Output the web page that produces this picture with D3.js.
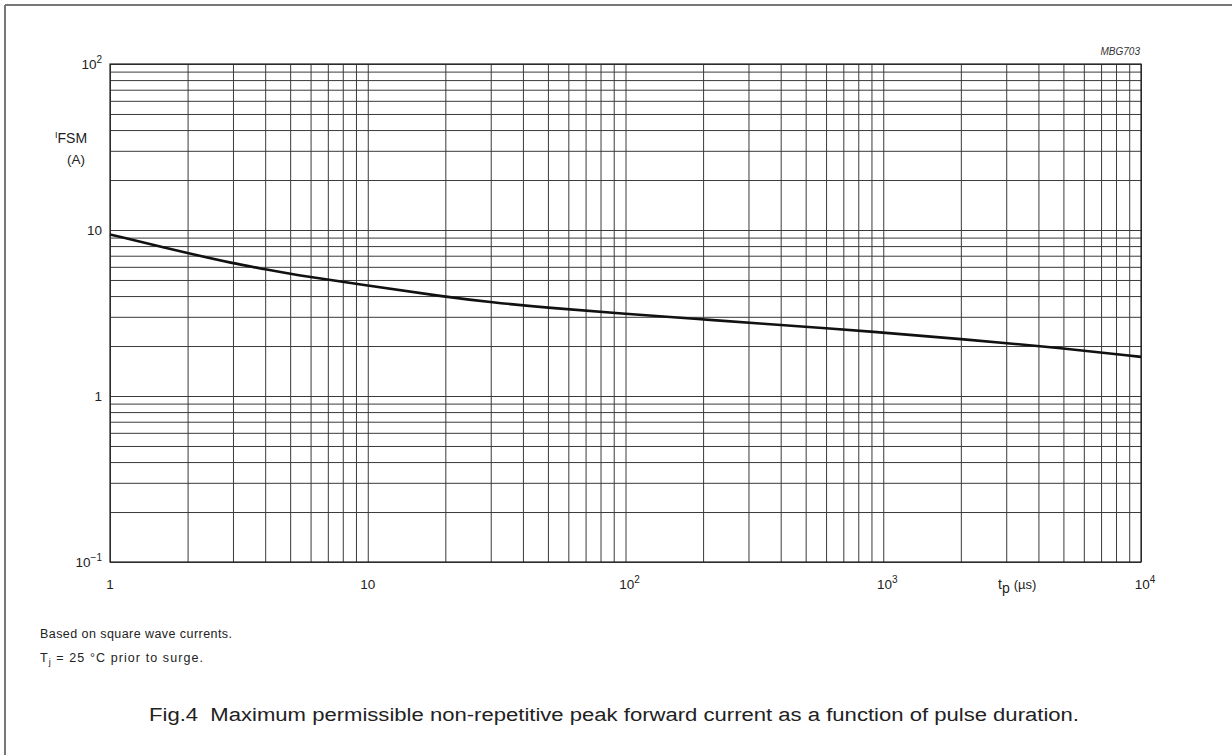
<!DOCTYPE html>
<html>
<head>
<meta charset="utf-8">
<script src="https://cdn.jsdelivr.net/npm/d3@7"></script>
<style>
    html, body { margin: 0; padding: 0; background: #fff; }
    svg { display: block; font-family: "Liberation Sans", Arial, sans-serif; }
</style>
</head>
<body>
<div id="chart"></div>
<script>
// pulse duration tp (us) and IFSM (A)
const pulseTimes = [1, 2, 3, 4, 5, 10, 20, 30, 50, 100, 200, 300, 1000, 2000, 4000, 10000];
const surgeCurrent = [9.4, 7.25, 6.3, 5.8, 5.43, 4.62, 3.96, 3.67, 3.4, 3.12, 2.9, 2.76, 2.42, 2.2, 2.01, 1.72];

// decade labels: [mantissa, exponent, value] (exponent null = plain)
const xTickLabels = [[1, null, 1], [10, null, 10], [10, '2', 100], [10, '3', 1000], [10, '4', 10000]];
const yTickLabels = [[10, '2', 100], [10, null, 10], [1, null, 1], [10, '\u22121', 0.1]];

const notes = ['Based on square wave currents.', 'prior to surge.'];
const caption = 'Fig.4  Maximum permissible non-repetitive peak forward current as a function of pulse duration.';

const width = 1232, height = 755;
const plotLeft = 110, plotRight = 1141, plotTop = 64, plotBottom = 562;

const svg = d3.select('#chart').append('svg')
    .attr('width', width)
    .attr('height', height);

// outer frame (left and top edges only are visible)
svg.append('line')
    .attr('x1', 5).attr('x2', 5).attr('y1', 5).attr('y2', height)
    .style('stroke', '#777').style('stroke-width', 2);
svg.append('line')
    .attr('x1', 5).attr('x2', width).attr('y1', 5).attr('y2', 5)
    .style('stroke', '#777').style('stroke-width', 2);

const x = d3.scaleLog().domain([1, 1e4]).range([plotLeft, plotRight]);
const y = d3.scaleLog().domain([0.1, 100]).range([plotBottom, plotTop]);

const gridColor = '#3a3a3a';

// vertical grid
svg.append('g')
    .attr('transform', `translate(0, ${plotTop})`)
    .call(d3.axisBottom(x).ticks(40).tickSize(plotBottom - plotTop).tickFormat(''))
    .call(g => g.select('.domain').remove())
    .selectAll('line')
    .style('stroke', gridColor)
    .style('stroke-width', 1);

// horizontal grid
svg.append('g')
    .attr('transform', `translate(${plotLeft}, 0)`)
    .call(d3.axisRight(y).ticks(30).tickSize(plotRight - plotLeft).tickFormat(''))
    .call(g => g.select('.domain').remove())
    .selectAll('line')
    .style('stroke', gridColor)
    .style('stroke-width', 1);

// plot border
svg.append('rect')
    .attr('x', plotLeft).attr('y', plotTop)
    .attr('width', plotRight - plotLeft).attr('height', plotBottom - plotTop)
    .style('fill', 'none')
    .style('stroke', '#222')
    .style('stroke-width', 1.2);

// curve
const line = d3.line()
    .x((d, i) => x(pulseTimes[i]))
    .y(d => y(d))
    .curve(d3.curveBasis);

svg.append('path')
    .datum(surgeCurrent)
    .attr('d', line)
    .style('fill', 'none')
    .style('stroke', '#111')
    .style('stroke-width', 2.6);

const textColor = '#222';

function powerLabel(parent, lbl, px, py, anchor) {
    const t = parent.append('text')
        .attr('x', px).attr('y', py)
        .style('font-size', '13.5px')
        .style('fill', textColor)
        .style('text-anchor', anchor);
    t.append('tspan').text(lbl[0]);
    if (lbl[1]) {
        t.append('tspan')
            .attr('dy', -6)
            .style('font-size', '10px')
            .text(lbl[1]);
    }
    return t;
}

// x tick labels
xTickLabels.forEach(lbl => {
    const t = powerLabel(svg, lbl, x(lbl[2]), 589, 'middle');
    if (lbl[1]) t.attr('dx', 4);
});

// y tick labels
yTickLabels.forEach(lbl => {
    powerLabel(svg, lbl, 102, y(lbl[2]) + 5, 'end');
});

// axis titles
const yTitle = svg.append('text')
    .attr('x', 55).attr('y', 143)
    .style('font-size', '14px')
    .style('fill', textColor);
yTitle.append('tspan').attr('dy', -5).style('font-size', '9px').text('I');
yTitle.append('tspan').attr('dy', 5).text('FSM');
svg.append('text')
    .attr('x', 76).attr('y', 164)
    .style('font-size', '13.5px')
    .style('fill', textColor)
    .style('text-anchor', 'middle')
    .text('(A)');

const xTitle = svg.append('text')
    .attr('x', 998).attr('y', 589)
    .style('font-size', '14px')
    .style('fill', textColor);
xTitle.append('tspan').text('t');
xTitle.append('tspan').attr('dy', 4).text('p');
xTitle.append('tspan').attr('dy', -4).attr('dx', 4).style('font-size', '13px').text('(\u00b5s)');

// figure code
svg.append('text')
    .attr('x', 1140).attr('y', 55)
    .style('font-size', '10px')
    .style('font-style', 'italic')
    .style('fill', '#333')
    .style('text-anchor', 'end')
    .text('MBG703');

// notes
svg.append('text')
    .attr('x', 40).attr('y', 638)
    .style('font-size', '12.5px')
    .style('fill', textColor)
    .attr('textLength', 192)
    .text(notes[0]);

const tj = svg.append('text')
    .attr('x', 40).attr('y', 662)
    .style('font-size', '12.5px')
    .style('fill', textColor)
    .attr('textLength', 163);
tj.append('tspan').text('T');
tj.append('tspan').attr('dy', 3).style('font-size', '9px').text('j');
tj.append('tspan').attr('dy', -3).text(' = 25 \u00b0C ' + notes[1]);

svg.append('text')
    .attr('x', 149).attr('y', 721)
    .attr('xml:space', 'preserve')
    .style('white-space', 'pre')
    .style('font-size', '18px')
    .style('fill', textColor)
    .attr('textLength', 930)
    .attr('lengthAdjust', 'spacingAndGlyphs')
    .text(caption);
</script>
</body>
</html>
